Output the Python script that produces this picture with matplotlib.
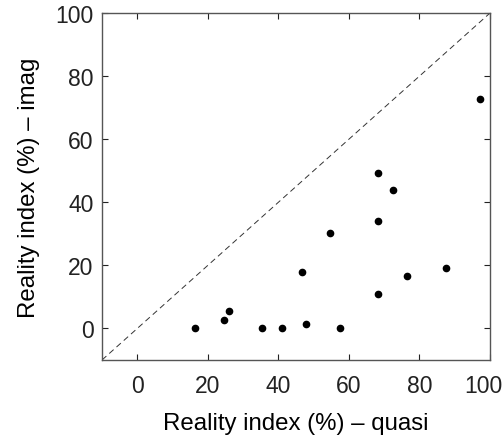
import matplotlib
matplotlib.use("Agg")
import matplotlib.pyplot as plt
import matplotlib.transforms as mtransforms

quasi = [16.5, 24.7, 26.1, 35.5, 41.0, 47.9, 46.6, 54.7, 57.5, 68.3, 68.3, 68.3, 72.6, 76.6, 87.5, 97.2]
imag = [0.0, 2.7, 5.4, 0.0, 0.0, 1.4, 17.8, 30.2, 0.0, 49.3, 34.2, 11.0, 44.0, 16.5, 19.2, 72.7]
ticks = [0, 20, 40, 60, 80, 100]

plt.rcParams['font.family'] = ['Liberation Sans', 'DejaVu Sans']
fig = plt.figure(figsize=(5.04, 4.39), dpi=100)
ax = fig.add_axes([0.2024, 0.1777, 0.7698, 0.7903])
ax.plot([-10, 100], [-10, 100], linestyle=(0, (6, 4)), color='#333333', linewidth=0.7)
ax.plot(quasi, imag, 'o', color='black', markersize=4.5)
ax.set_xlim(-10, 100)
ax.set_ylim(-10, 100)
ax.set_xticks(ticks)
ax.set_yticks(ticks)
ax.tick_params(direction='in', top=True, right=True, labelsize=16.5, length=4, colors='#222222')
ax.tick_params(axis='x', pad=10)
ax.tick_params(axis='y', pad=6)
for s in ax.spines.values():
    s.set_color('#555555')
    s.set_linewidth(1.0)
ax.set_xlabel('Reality index (%) – quasi', fontsize=17.3, labelpad=11)
ax.set_ylabel('Reality index (%) – imag', fontsize=17.3, labelpad=11)

fig.canvas.draw()
lab = ax.get_xticklabels()[-1]
lab.set_transform(lab.get_transform() + mtransforms.ScaledTranslation(-7 / 100, 0, fig.dpi_scale_trans))

fig.savefig('out.png', dpi=100)
